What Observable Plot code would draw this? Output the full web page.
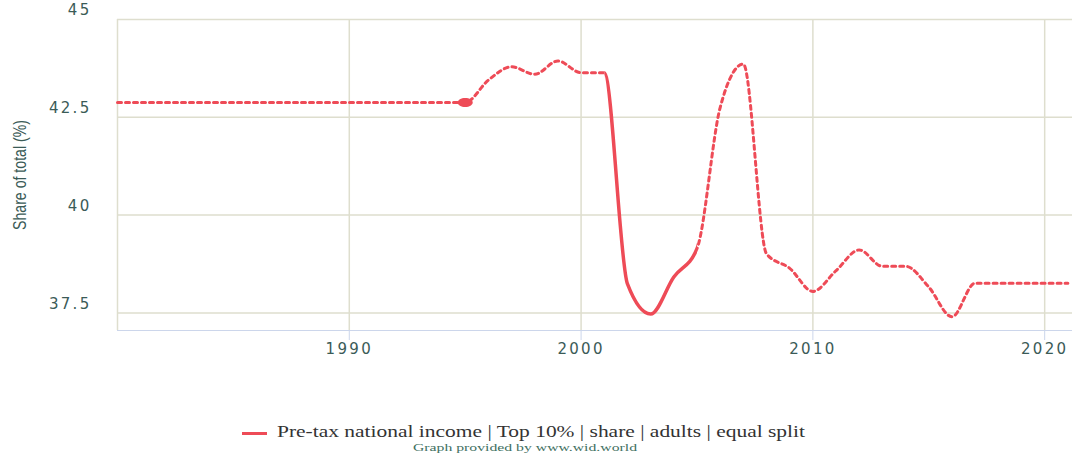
<!DOCTYPE html>
<html><head><meta charset="utf-8">
<script src="https://cdn.jsdelivr.net/npm/d3@7"></script>
<script src="https://cdn.jsdelivr.net/npm/@observablehq/plot@0.6"></script>
<style>
body{margin:0;background:#fff;}
#wrap{position:relative;width:1072px;height:458px;overflow:hidden;background:#fff;}
.sw{position:absolute;left:242px;top:432px;width:25px;height:3px;background:#ee4b57;}
.lt{position:absolute;left:277px;top:424px;font-family:"Liberation Serif",serif;font-size:16px;line-height:16px;color:#333;white-space:nowrap;transform-origin:0 50%;}
.cap{position:absolute;top:442px;font-family:"Liberation Serif",serif;font-size:11px;line-height:11px;color:#41705f;white-space:nowrap;transform-origin:0 50%;}
</style></head><body>
<div id="wrap"></div>
<script>
const years = [1980,1981,1982,1983,1984,1985,1986,1987,1988,1989,1990,1991,1992,1993,1994,1995,1996,1997,1998,1999,2000,2001,2002,2003,2004,2005,2006,2007,2008,2009,2010,2011,2012,2013,2014,2015,2016,2017,2018,2019,2020,2021];
const values = [42.88,42.88,42.88,42.88,42.88,42.88,42.88,42.88,42.88,42.88,42.88,42.88,42.88,42.88,42.88,42.88,43.45,43.79,43.60,43.94,43.64,43.64,38.24,37.47,38.42,39.14,42.75,43.86,39.01,38.64,38.05,38.58,39.11,38.69,38.69,38.16,37.40,38.26,38.26,38.26,38.26,38.26];
const solidFrom = 2001, solidTo = 2005;
const markerYears = [1995];
const yTicks = [37.5, 40, 42.5, 45];
const xGrid = [1980, 1990, 2000, 2010, 2020];
const xTicks = [1990, 2000, 2010, 2020];
const yLabel = "Share of total (%)";
const seriesLabel = "Pre-tax national income | Top 10% | share | adults | equal split";
const credit = "Graph provided by www.wid.world";

const data = years.map((year, i) => ({year, value: values[i]}));
const red = "#ee4b57", grid = "#dedece", textColor = "#3b5b57", axisBlue = "#ccd6eb";

const ellipse = {draw(ctx, size) {
  const r = Math.sqrt(size / Math.PI), rx = r * 1.5, ry = r * 0.9, k = 0.5523;
  ctx.moveTo(rx, 0);
  ctx.bezierCurveTo(rx, ry * k, rx * k, ry, 0, ry);
  ctx.bezierCurveTo(-rx * k, ry, -rx, ry * k, -rx, 0);
  ctx.bezierCurveTo(-rx, -ry * k, -rx * k, -ry, 0, -ry);
  ctx.bezierCurveTo(rx * k, -ry, rx, -ry * k, rx, 0);
  ctx.closePath();
}};

const W = 1072, H = 370;
const chart = Plot.plot({
  width: W, height: H,
  marginLeft: 117, marginRight: 0, marginTop: 19, marginBottom: 40,
  x: {domain: [1980, 2021.2]},
  y: {domain: [37.05, 45]},
  marks: [
    Plot.ruleY(yTicks, {stroke: grid, strokeWidth: 1.5}),
    Plot.ruleX(xGrid, {stroke: grid, strokeWidth: 1.5}),
    Plot.ruleY([37.05], {stroke: axisBlue, strokeWidth: 1.2}),
    Plot.axisX({ticks: xTicks, tickSize: 10, tickPadding: 3, stroke: axisBlue, fill: textColor, tickFormat: d => String(d), fontSize: 15, fontFamily: "DejaVu Sans", label: null, ariaDescription: "xlab"}),
    Plot.axisY({ticks: yTicks, tickSize: 0, tickPadding: 26, dy: -9, fill: textColor, tickFormat: d => String(d), fontSize: 15, fontFamily: "DejaVu Sans", label: null, ariaDescription: "ylab"}),
    Plot.text([yLabel], {frameAnchor: "left", dx: -97, rotate: -90, textAnchor: "start", fontFamily: "Liberation Sans", fontSize: 18, fill: textColor, ariaDescription: "ytitle"}),
    Plot.line(data, {x: "year", y: "value", stroke: red, strokeWidth: 3, strokeDasharray: "4,4", curve: "monotone-x", ariaDescription: "dotted"}),
    Plot.line(data, {x: "year", y: "value", stroke: red, strokeWidth: 3.5, curve: "monotone-x", ariaDescription: "solid"}),
    Plot.dot(data.filter(d => markerYears.includes(d.year)), {x: "year", y: "value", r: 5, symbol: ellipse, fill: red, stroke: "none"})
  ]
});

const svg = d3.select(chart);
svg.selectAll('g[aria-description="xlab"] text, g[aria-description="ylab"] text').style("letter-spacing", "2.3px");
const titleLen = 110;
svg.selectAll('g[aria-description="ytitle"] text').attr("textLength", titleLen).attr("lengthAdjust", "spacingAndGlyphs").attr("x", -titleLen / 2);
const sx = chart.scale("x");
const x1 = sx.apply(solidFrom), x2 = sx.apply(solidTo);
const defs = svg.append("defs");
defs.append("clipPath").attr("id", "clipSolid").append("rect").attr("x", x1).attr("y", 0).attr("width", x2 - x1).attr("height", H);
const cd = defs.append("clipPath").attr("id", "clipDot");
cd.append("rect").attr("x", 0).attr("y", 0).attr("width", x1).attr("height", H);
cd.append("rect").attr("x", x2).attr("y", 0).attr("width", W - x2).attr("height", H);
svg.select('g[aria-description="solid"]').attr("clip-path", "url(#clipSolid)");
svg.select('g[aria-description="dotted"]').attr("clip-path", "url(#clipDot)");

const wrap = document.getElementById("wrap");
wrap.appendChild(chart);
const sw = document.createElement("div"); sw.className = "sw"; wrap.appendChild(sw);
const lt = document.createElement("div"); lt.className = "lt"; lt.textContent = seriesLabel; wrap.appendChild(lt);
const lw = lt.getBoundingClientRect().width;
lt.style.transform = `scaleX(${528 / lw})`;
const cap = document.createElement("div"); cap.className = "cap"; cap.textContent = credit; wrap.appendChild(cap);
const cw = cap.getBoundingClientRect().width;
cap.style.left = (525 - 112) + "px";
cap.style.transform = `scaleX(${224 / cw})`;
</script>
</body></html>
